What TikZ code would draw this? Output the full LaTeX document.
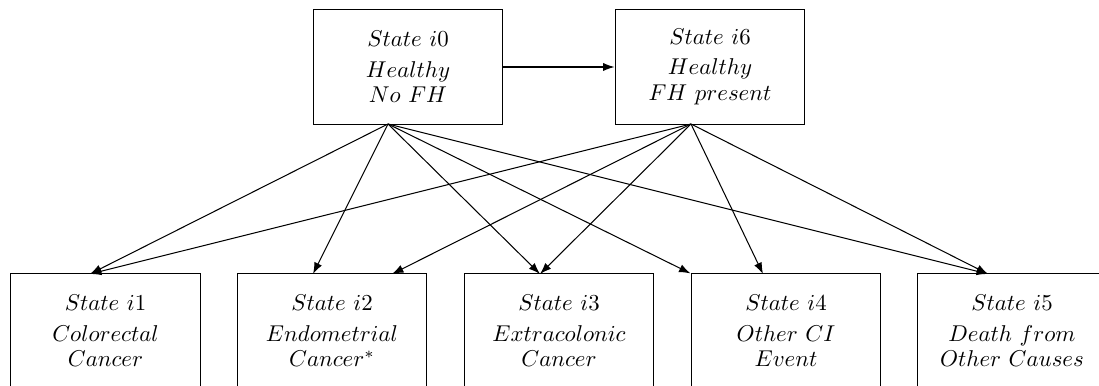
\documentclass[tikz,border=0pt]{standalone}
\usetikzlibrary{arrows.meta}
\begin{document}
\begin{tikzpicture}[x=0.4375pt,y=-0.4375pt,
  statebox/.style={draw, line width=0.45pt, minimum width=83.1pt, minimum height=49.9pt,
    inner sep=0pt, align=center, font=\fontsize{10}{11.2}\selectfont},
  conn/.style={line width=0.45pt, -{Latex[length=5pt,width=3.6pt]}}]
\useasboundingbox (0,0) rectangle (1099,386);
\clip (0,0) rectangle (1099,386);
\node[statebox] (i0) at (408,67) {$State\ i0$\\[2pt]$Healthy$\\$No\ FH$};
\node[statebox] (i6) at (710,67) {$State\ i6$\\[2pt]$Healthy$\\$FH\ present$};
\node[statebox] (i1) at (105.5,331) {$State\ i1$\\[2pt]$Colorectal$\\$Cancer$};
\node[statebox] (i2) at (332,331) {$State\ i2$\\[2pt]$Endometrial$\\$Cancer^*$};
\node[statebox] (i3) at (559,331) {$State\ i3$\\[2pt]$Extracolonic$\\$Cancer$};
\node[statebox] (i4) at (786,331) {$State\ i4$\\[2pt]$Other\ CI$\\$Event$};
\node[statebox] (i5) at (1012,331) {$State\ i5$\\[2pt]$Death\ from$\\$Other\ Causes$};
\coordinate (s0) at (388,124);
\coordinate (s6) at (691,124);
\coordinate (t1) at (90,274);
\coordinate (t2a) at (313,274);
\coordinate (t2b) at (392,274);
\coordinate (t3) at (540,274);
\coordinate (t4b) at (763,274);
\coordinate (t5) at (988,274);
\draw[conn] (i0.east) -- (i6.west);
\draw[conn] (s0) -- (t1);
\draw[conn] (s0) -- (t2a);
\draw[conn] (s0) -- (t3);
\draw[conn] (s0) -- (i4.north west);
\draw[conn] (s0) -- (t5);
\draw[conn] (s6) -- (t1);
\draw[conn] (s6) -- (t2b);
\draw[conn] (s6) -- (t3);
\draw[conn] (s6) -- (t4b);
\draw[conn] (s6) -- (t5);
\end{tikzpicture}
\end{document}
